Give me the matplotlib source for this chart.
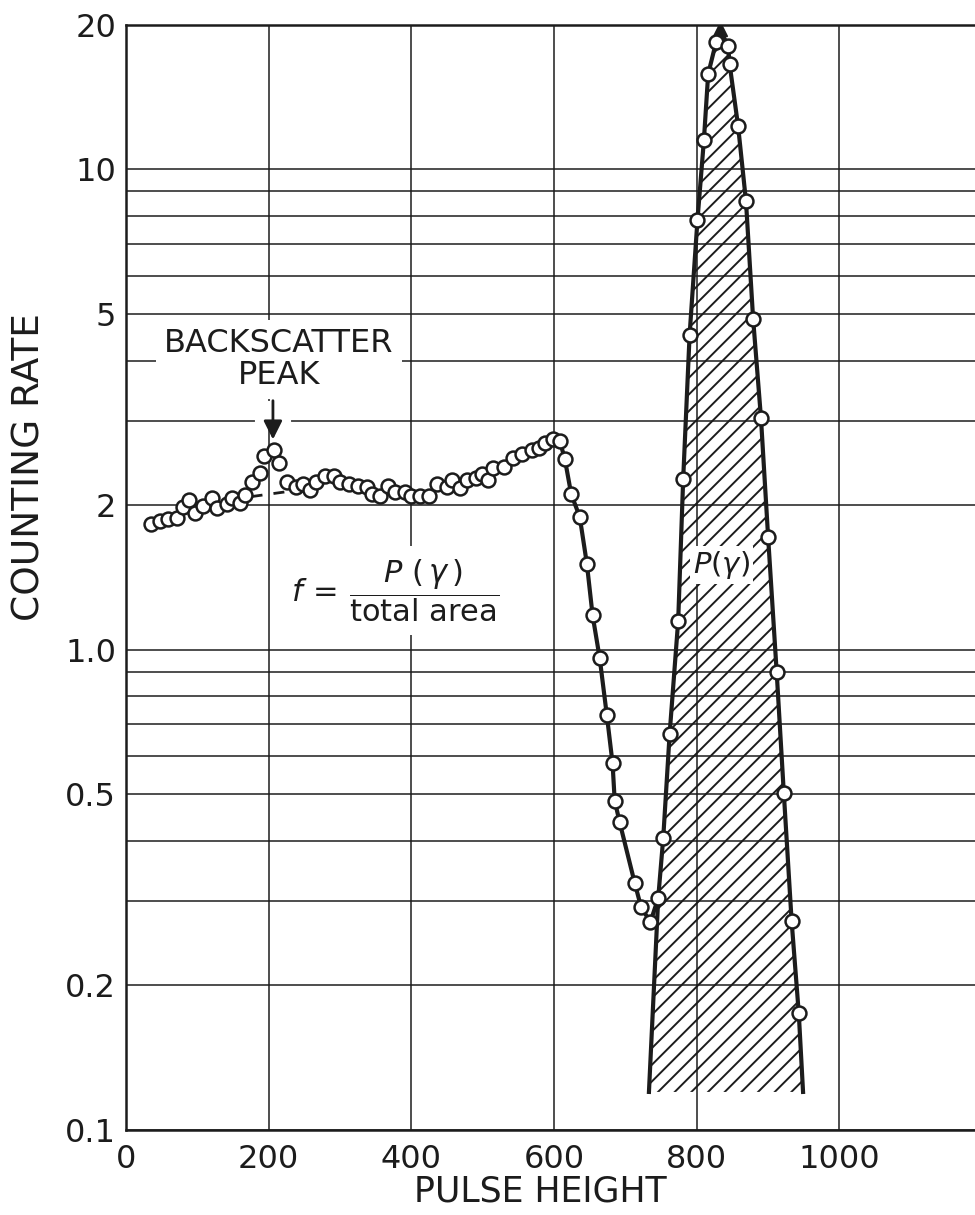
import matplotlib

matplotlib.use("Agg")
import matplotlib.pyplot as plt
from matplotlib.ticker import FixedLocator, NullFormatter

INK = "#1c1c1c"

# low-energy continuum (circles only, no connecting line)
tail_x = [35, 48, 59, 72, 80, 89, 97, 108, 120, 127, 141, 148, 160, 167, 176, 188, 194, 207, 215, 226,
          238, 248, 258, 267, 279, 291, 300, 312, 325, 338, 345, 356, 367, 377, 391, 399, 412, 425, 436, 450,
          457, 468, 478, 491, 499, 508, 515, 530, 543, 555, 569, 579, 587, 598]
tail_y = [1.83, 1.85, 1.87, 1.88, 1.98, 2.05, 1.93, 1.99, 2.07, 1.97, 2.01, 2.07, 2.02, 2.10, 2.23, 2.33, 2.53, 2.60, 2.45, 2.24,
          2.18, 2.21, 2.15, 2.24, 2.30, 2.30, 2.24, 2.21, 2.19, 2.18, 2.11, 2.09, 2.19, 2.13, 2.13, 2.09, 2.09, 2.09, 2.21, 2.18,
          2.26, 2.17, 2.26, 2.28, 2.32, 2.26, 2.39, 2.40, 2.51, 2.55, 2.61, 2.63, 2.70, 2.74]

# compton edge falling down to the valley
fall_x = [608, 615, 624, 636, 646, 654, 664, 674, 682, 685, 692, 713, 722, 735]
fall_y = [2.72, 2.50, 2.11, 1.89, 1.51, 1.18, 0.96, 0.73, 0.58, 0.485, 0.437, 0.327, 0.291, 0.271]

# photopeak
rise_x = [746, 753, 762, 774, 781, 790, 801, 810, 816, 827]
rise_y = [0.304, 0.405, 0.668, 1.15, 2.27, 4.53, 7.84, 11.5, 15.8, 18.4]
apex_x = [832]
apex_y = [19.6]
drop_x = [844, 846, 858, 869, 879, 890, 900, 912, 922, 933, 943]
drop_y = [18.1, 16.6, 12.3, 8.59, 4.89, 3.04, 1.72, 0.90, 0.504, 0.272, 0.175]
base_x = [733, 949]
base_y = [0.12, 0.12]

# dashed continuum under the backscatter peak
dash_x = [172, 222]
dash_y = [2.08, 2.13]

# backscatter arrow: x, tail y, tip y
arrow_x = 206
arrow_y = [3.30, 2.74]

x_ticks = [0, 200, 400, 600, 800, 1000]
y_ticks = [0.1, 0.2, 0.5, 1.0, 2, 5, 10, 20]
y_tick_labels = ["0.1", "0.2", "0.5", "1.0", "2", "5", "10", "20"]
y_minor = [0.3, 0.4, 0.6, 0.7, 0.8, 0.9, 3, 4, 6, 7, 8, 9]


def main():
    plt.rcParams["font.family"] = "DejaVu Sans"
    plt.rcParams["mathtext.fontset"] = "dejavusans"
    plt.rcParams["hatch.linewidth"] = 1.4

    fig = plt.figure(figsize=(9.75, 12.15), dpi=100)
    ax = fig.add_axes([0.1292, 0.0700, 0.8708, 0.9095])
    ax.set_yscale("log")
    ax.set_xlim(0, 1190)
    ax.set_ylim(0.1, 20)

    ax.set_xticks(x_ticks, [str(v) for v in x_ticks])
    ax.set_yticks(y_ticks, y_tick_labels)
    ax.yaxis.set_minor_locator(FixedLocator(y_minor))
    ax.yaxis.set_minor_formatter(NullFormatter())
    ax.tick_params(which="both", length=0, colors=INK)
    ax.tick_params(axis="x", pad=10, labelsize=23)
    ax.tick_params(axis="y", pad=7, labelsize=23)
    ax.grid(which="both", color=INK, lw=1.1)
    ax.set_axisbelow(True)
    for side in ["left", "bottom", "top"]:
        ax.spines[side].set_color(INK)
        ax.spines[side].set_linewidth(1.8)
    ax.spines["right"].set_visible(False)

    ax.set_xlabel("PULSE HEIGHT", fontsize=25, color=INK)
    ax.xaxis.set_label_coords(0.488, -0.040)
    ax.set_ylabel("COUNTING RATE", fontsize=27, color=INK)
    ax.yaxis.set_label_coords(-0.092, 0.600)

    # hatched photopeak area
    poly_x = [base_x[0]] + rise_x + apex_x + drop_x + [base_x[1]]
    poly_y = [base_y[0]] + rise_y + apex_y + drop_y + [base_y[1]]
    ax.fill(poly_x, poly_y, facecolor="none", edgecolor=INK, hatch="//", linewidth=0, zorder=2)
    ax.plot(poly_x, poly_y, color=INK, lw=3, zorder=3)
    ax.plot(apex_x, apex_y, marker="^", ms=10, color=INK, zorder=4)

    # falling edge joined to the peak
    line_x = tail_x[-1:] + fall_x + rise_x[:1]
    line_y = tail_y[-1:] + fall_y + rise_y[:1]
    ax.plot(line_x, line_y, color=INK, lw=3, zorder=3)

    ax.plot(dash_x, dash_y, color=INK, lw=2, dashes=(5, 4), zorder=3)

    marker_style = dict(ls="none", marker="o", ms=10, mfc="white", mec=INK, mew=1.8, zorder=5)
    ax.plot(tail_x, tail_y, **marker_style)
    ax.plot(fall_x, fall_y, **marker_style)
    ax.plot(rise_x, rise_y, **marker_style)
    ax.plot(drop_x, drop_y, **marker_style)

    ax.text(214, 4.02, "BACKSCATTER\nPEAK", ha="center", va="center", fontsize=23,
            color=INK, linespacing=1.05, bbox=dict(facecolor="white", edgecolor="none", pad=6), zorder=6)
    # white gap in the grid around the arrow shaft
    ax.plot([arrow_x, arrow_x], [arrow_y[0], 2.9], color="white", lw=26, solid_capstyle="butt", zorder=1)
    ax.annotate("", xy=(arrow_x, arrow_y[1]), xytext=(arrow_x, arrow_y[0]),
                arrowprops=dict(arrowstyle="-|>", color=INK, lw=2, mutation_scale=28,
                                shrinkA=0, shrinkB=0), zorder=6)

    ax.text(378, 1.33, r"$f\,=\,\dfrac{P\ (\,\gamma\,)}{\mathrm{total\ area}}$", ha="center", va="center",
            fontsize=22, color=INK, bbox=dict(facecolor="white", edgecolor="none", pad=8), zorder=6)
    ax.text(835, 1.50, r"$P(\gamma)$", ha="center", va="center", fontsize=21, color=INK,
            bbox=dict(facecolor="white", edgecolor="none", pad=2), zorder=6)

    fig.savefig("out.png", dpi=100, facecolor="white")
    plt.close(fig)


if __name__ == "__main__":
    main()
